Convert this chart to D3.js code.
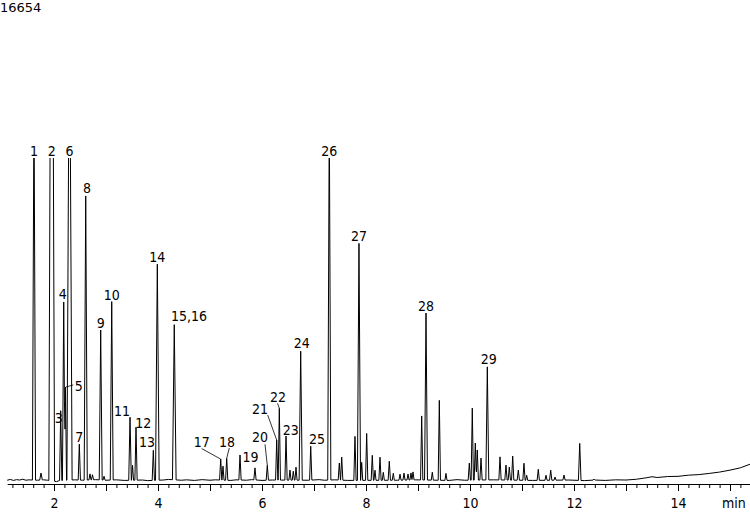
<!DOCTYPE html>
<html><head><meta charset="utf-8">
<script src="https://cdn.jsdelivr.net/npm/d3@7"></script>
<style>
body{margin:0;background:#fff}
svg{display:block}
text{font-family:"DejaVu Sans Condensed","DejaVu Sans",sans-serif;fill:#000}
</style>
</head><body>
<svg id="chart" width="750" height="512"></svg>
<script>
// ---------- data ----------
const fullScale = 16654;               // counts at top of the trace window
const peakTime = [1.615,1.750,1.956,2.129,2.187,2.221,2.298,2.487,2.610,2.692,2.740,2.898,2.962,3.110,3.462,3.510,3.577,3.910,3.987,4.313,
  5.206,5.250,5.321,5.577,5.865,6.102,6.283,6.333,6.462,6.538,6.602,6.654,6.744,6.937,7.294,7.487,7.533,7.788,7.865,7.917,
  8.013,8.121,8.173,8.269,8.333,8.448,8.525,8.654,8.731,8.808,8.865,8.904,9.071,9.154,9.275,9.410,9.538,9.987,10.044,10.102,
  10.140,10.212,10.333,10.577,10.692,10.756,10.821,10.929,11.038,11.090,11.313,11.462,11.552,11.635,11.808,12.110,12.385];
const peakHeight = [20000,360,40000,3600,9200,4800,26000,1850,14650,310,260,7730,200,9200,3250,770,2730,1550,11140,8000,
  1080,720,1130,1290,620,770,2060,3700,2270,520,460,670,6650,1750,19000,880,1190,2270,12220,930,
  2420,1290,520,1190,410,980,360,310,360,310,360,410,3300,8610,410,4120,360,880,3710,1910,
  1550,1130,5830,1190,770,670,1240,520,880,260,570,260,520,160,260,1910,50];
const peakWidth = [0.03,0.025,0.055,0.022,0.025,0.02,0.05,0.022,0.03,0.02,0.02,0.028,0.02,0.028,0.025,0.02,0.022,0.022,0.035,0.035,
  0.022,0.02,0.022,0.022,0.022,0.022,0.022,0.022,0.022,0.02,0.02,0.02,0.03,0.022,0.03,0.022,0.022,0.022,0.03,0.02,
  0.022,0.022,0.02,0.022,0.02,0.022,0.02,0.02,0.02,0.02,0.02,0.02,0.022,0.028,0.02,0.022,0.02,0.022,0.022,0.022,
  0.022,0.022,0.028,0.022,0.022,0.022,0.022,0.022,0.022,0.02,0.022,0.02,0.022,0.02,0.022,0.025,0.02];
const baseTime = [1.10,1.16,1.22,1.28,1.34,1.40,1.46,1.52,1.58,1.68,1.80,1.88,2.05,2.10,2.40,2.55,2.80,3.00,3.20,3.35,
  3.70,3.80,4.10,4.20,4.45,4.55,4.70,4.85,5.00,5.10,5.40,5.50,5.70,5.80,6.00,6.20,6.90,7.10,7.20,7.40,
  7.65,8.60,8.95,9.60,9.75,9.90,10.45,11.20,11.90,12.20,12.40,12.60,12.80,13.00,13.20,13.40,13.50,13.60,13.80,14.00,
  14.20,14.40,14.60,14.80,15.00,15.20,15.40];
const baseLevel = [40,80,30,70,50,90,40,60,50,40,60,40,-30,20,60,40,70,40,60,30,
  50,20,50,80,40,60,30,70,40,60,30,60,40,70,30,50,40,70,40,60,
  30,40,60,30,70,40,60,30,50,20,50,30,60,50,90,170,220,180,230,240,
  300,330,390,460,560,680,880];
const labelText = ["1","2","3","4","5","6","7","8","9","10","11","12","13","14","15,16","17","18","19","20","21","22","23","24","25","26","27","28","29"];
const labelTime = [1.615,1.956,2.129,2.187,2.221,2.298,2.487,2.610,2.898,3.110,3.462,3.577,3.910,3.987,4.313,5.206,5.321,5.865,6.102,6.283,6.333,6.462,6.744,6.937,7.294,7.865,9.154,10.333];
const tickLabels = [2,4,6,8,10,12,14];
const axisTitle = "min";

// ---------- layout ----------
const svg = d3.select("#chart");
const x = d3.scaleLinear().domain([1.1, 15.4]).range([7.2, 750.8]);
const y = d3.scaleLinear().domain([0, fullScale]).range([481, 158]);
const axisY = 484;

// label placement tweaks (pixels, relative to peak apex), leader start relative to text anchor
const labelLayout = {
  "3":    {dx:-2,  dy:12},
  "4":    {dx:-1,  dy:-3},
  "5":    {dx:13.3,dy:3.7, lead:[-5.5,-6]},
  "8":    {dx:1.3, dy:-2.6},
  "11":   {dx:-8,  dy:-1},
  "12":   {dx:7.3, dy:1},
  "13":   {dx:-6.3,dy:-3.3},
  "15,16":{dx:14.7,dy:-4},
  "17":   {dx:-19, dy:-12.5, lead:[0,2]},
  "18":   {dx:0.3, dy:-11.5, lead:[2.3,1.2]},
  "19":   {dx:-4.5,dy:-6},
  "20":   {dx:-7.3,dy:-23, lead:[5,2]},
  "21":   {dx:-16.7,dy:-26, lead:[7.7,1]},
  "22":   {dx:-1.3,dy:-6.5, lead:[-0.5,1.5]},
  "23":   {dx:4.8, dy:-1},
  "24":   {dx:1,   dy:-3},
  "25":   {dx:6.3, dy:-2},
  "29":   {dx:1.4, dy:-3.3}
};

// ---------- trace ----------
const bl = d3.scaleLinear().domain(baseTime).range(baseLevel).clamp(true);
const tset = new Set(baseTime);
peakTime.forEach((t,i)=>{ tset.add(t-peakWidth[i]); tset.add(t); tset.add(t+peakWidth[i]); });
const ts = Array.from(tset).filter(t=>t>=1.1 && t<=15.4).sort((a,b)=>a-b);
const signal = t => bl(t) + d3.sum(peakTime, (p,i)=>Math.max(0, peakHeight[i]*(1-Math.abs(t-p)/peakWidth[i])));
const trace = ts.map(t=>[t, signal(t)]);

svg.append("clipPath").attr("id","clip")
  .append("rect").attr("x",0).attr("y",y(fullScale)).attr("width",750).attr("height",axisY - y(fullScale));

svg.append("path")
  .datum(trace)
  .attr("clip-path","url(#clip)")
  .attr("fill","none")
  .attr("stroke","#000")
  .attr("stroke-width",1)
  .attr("stroke-linejoin","round")
  .attr("d", d3.line().x(d=>x(d[0])).y(d=>y(d[1])));

// ---------- axis ----------
const minorTicks = d3.range(6, 78).map(i=>i/5).filter(v=>v<=15.4 && Math.abs(v-Math.round(v))>1e-6);
const majorTicks = d3.range(2, 16);
const gMinor = svg.append("g").attr("transform",`translate(0,${axisY})`)
  .call(d3.axisBottom(x).tickValues(minorTicks).tickSize(4).tickSizeOuter(0).tickFormat(""));
const gMajor = svg.append("g").attr("transform",`translate(0,${axisY})`)
  .call(d3.axisBottom(x).tickValues(majorTicks).tickSize(7).tickSizeOuter(0)
        .tickFormat(d=> tickLabels.includes(d) ? d : ""));
gMinor.select(".domain").remove();
[gMinor,gMajor].forEach(g=>{
  g.selectAll("line").attr("stroke","#000");
  g.select(".domain").attr("stroke","#000");
});
gMajor.selectAll("text").attr("y",24).attr("dy",null)
  .style("font-size","14px").attr("fill","#000");
svg.append("text").attr("x",722).attr("y",axisY+24).style("font-size","14px").text(axisTitle);

// full-scale value
svg.append("text").attr("x",0).attr("y",12)
  .style("font-family","'DejaVu Sans',sans-serif").style("font-size","13px").text(fullScale);

// ---------- labels ----------
labelText.forEach((lab,i)=>{
  const t = labelTime[i];
  const k = peakTime.indexOf(t);
  const h = Math.min(fullScale, peakHeight[k] + bl(t));
  const ax = x(t), ay = y(h);
  const L = labelLayout[lab] || {dx:0, dy:-2};
  const tx = ax + L.dx, ty = ay + L.dy;
  svg.append("text").attr("x",tx).attr("y",ty).attr("text-anchor","middle")
    .style("font-size","14px").text(lab);
  if (L.lead) {
    svg.append("line")
      .attr("x1", tx + L.lead[0]).attr("y1", ty + L.lead[1])
      .attr("x2", ax).attr("y2", ay)
      .attr("stroke","#000").attr("stroke-width",0.8);
  }
});
</script>
</body></html>
